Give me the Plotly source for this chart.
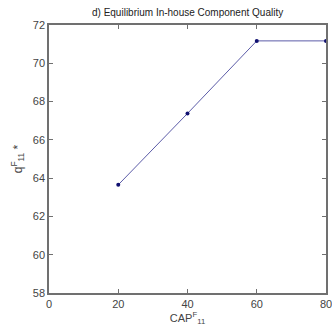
import plotly.graph_objects as go

cap = [20, 40, 60, 80]
quality = [63.65, 67.38, 71.17, 71.17]
x_ticks = [0, 20, 40, 60, 80]
y_ticks = [58, 60, 62, 64, 66, 68, 70, 72]

fig = go.Figure()
fig.add_trace(go.Scatter(
    x=cap, y=quality, mode="lines+markers",
    line=dict(color="#5c5ca8", width=1),
    marker=dict(color="#101070", size=4),
    showlegend=False,
))

axis_common = dict(
    showline=True, linecolor="#707070", linewidth=1.5, mirror="allticks",
    ticks="inside", ticklen=4, tickcolor="#707070", showgrid=False, zeroline=False,
    automargin=False, ticklabeloverflow="allow",
    tickfont=dict(family="Liberation Sans, Arial", size=11, color="#444444"),
)

fig.update_layout(
    width=332, height=330,
    margin=dict(l=49, r=6, t=25, b=37),
    plot_bgcolor="white", paper_bgcolor="white",
    title=dict(text="d) Equilibrium In-house Component Quality", x=0.565, xanchor="center",
               y=0.962, yanchor="middle",
               font=dict(family="Liberation Sans, Arial", size=10, color="#222222")),
    xaxis=dict(range=[0, 80], tickvals=x_ticks,
               title=dict(text="CAP<sup>F</sup><sub>11</sub>", standoff=2,
                          font=dict(family="Liberation Sans, Arial", size=11, color="#444444")),
               **axis_common),
    yaxis=dict(range=[58, 72], tickvals=y_ticks,
               title=dict(text="q<sup>F</sup><sub>11</sub> *", standoff=8,
                          font=dict(family="Liberation Sans, Arial", size=12, color="#444444")),
               **axis_common),
)

fig.write_html("out.html")
